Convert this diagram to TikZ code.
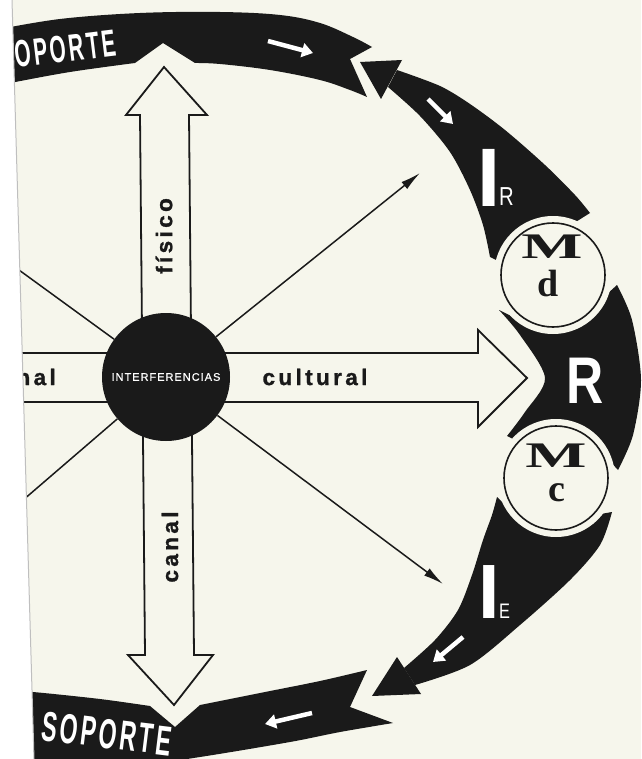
\documentclass[tikz,border=0pt]{standalone}
\usepackage{fontspec}
\setmainfont{Liberation Sans}
\usetikzlibrary{arrows.meta}
\newfontfamily\labf[LetterSpace=15,FakeBold=1.2]{Liberation Sans}
\newfontfamily\intf[LetterSpace=9,FakeBold=0.6]{Liberation Sans}
\newfontfamily\condf[FakeStretch=0.55,LetterSpace=7]{Liberation Sans}
\newfontfamily\condr[FakeStretch=0.78]{Liberation Sans}
\newfontfamily\serf{Liberation Serif}
\newfontfamily\mfontf[FakeStretch=1.8]{Liberation Serif}
\definecolor{paper}{RGB}{246,246,236}
\definecolor{ink}{RGB}{26,26,26}
\begin{document}
\begin{tikzpicture}[x=1pt,y=-1pt,
  band/.style={fill=ink},
  blockarrow/.style={fill=paper,draw=ink,line width=1.8pt,line join=miter},
  blockline/.style={draw=ink,line width=1.8pt},
  conn/.style={draw=ink,line width=1.5pt},
  wtext/.style={text=white,inner sep=0pt},
  btext/.style={text=ink,inner sep=0pt},
  warrow/.style={draw=white,line width=4.5pt,-{Triangle[length=11pt,width=14pt]}},
  mcircle/.style={circle,draw=ink,line width=1.6pt,fill=paper,minimum size=104pt,inner sep=0pt},
  labfont/.style={font={\labf\bfseries\fontsize{22.5}{26}\selectfont}}
]
\useasboundingbox (0,0) rectangle (641,759);
\clip (0,0) rectangle (641,759);
\fill[paper] (0,0) rectangle (641,759);

% top SOPORTE band
\fill[band] plot[smooth,tension=0.6] coordinates {(-5,30) (60,19) (140,13) (220,12) (280,15) (320,23) (353,37) (372,47)}
  -- (350,59)
  -- plot[smooth,tension=0.6] coordinates {(367,97) (350,90) (320,80) (270,70) (220,64) (195,63)}
  -- (163,43)
  -- plot[smooth,tension=0.6] coordinates {(135,63) (70,72) (10,83) (-5,86)} -- cycle;

% I_R band
\fill[band] (360,62) -- (402,60) -- (381,99) -- cycle;
\fill[band] plot[smooth] coordinates {(397,70) (440,86) (470,104) (505,130) (545,165) (575,195) (590,213)}
  -- (555,235) -- (500,262)
  -- plot[smooth] coordinates {(490,257) (483,225) (470,190) (450,152) (420,116) (388,87)} -- cycle;

% R band
\fill[band] (499,310) -- (540,330) -- (595,305) -- (617,285)
  -- plot[smooth] coordinates {(617,285) (632,320) (641,380) (633,435) (618,470)}
  -- (595,445) -- (556,425) -- (515,440) -- (507,436)
  -- plot[smooth] coordinates {(507,436) (525,412) (545,378) (520,335) (499,310)} -- cycle;

% I_E band
\fill[band] (372,696) -- (397,657) -- (421,694) -- cycle;
\fill[band] plot[smooth] coordinates {(404,668) (435,640) (458,610) (472,575) (483,540) (492,515) (497,497)}
  -- (520,520) -- (560,530) -- (595,515)
  -- plot[smooth] coordinates {(612,512) (600,545) (570,580) (520,625) (470,665) (415,685)} -- cycle;

% bottom SOPORTE band
\fill[band] plot[smooth] coordinates {(-5,690) (33,692) (100,699) (150,706)}
  -- (175,727)
  -- plot[smooth] coordinates {(200,705) (260,693) (320,681) (367,670)}
  -- (350,707)
  -- plot[smooth] coordinates {(393,723) (340,732) (290,742) (200,757) (120,768) (-5,775)} -- cycle;

% gaps around the M circles
\fill[paper] (553,275) circle[radius=59];
\fill[paper] (556,478) circle[radius=59];
\node[mcircle] (md) at (553,275) {};
\node[mcircle] (mc) at (556,478) {};
\node[btext,font={\mfontf\bfseries\fontsize{36}{40}\selectfont}] (mdl) at (552,247) {M};
\node[btext,font={\serf\bfseries\fontsize{38}{40}\selectfont}] (dl) at (548,284) {d};
\node[btext,font={\mfontf\bfseries\fontsize{36}{40}\selectfont}] (mcl) at (556,456) {M};
\node[btext,font={\serf\bfseries\fontsize{38}{40}\selectfont}] (cl) at (557,493) {c};

% white texts in bands
\node[wtext,anchor=base west,rotate=7,font={\condf\bfseries\fontsize{38}{42}\selectfont}] (sop1) at (0,70) {SOPORTE};
\node[wtext,anchor=base west,rotate=-7,font={\condf\bfseries\fontsize{42}{46}\selectfont}] (sop2) at (40,740) {SOPORTE};
\node[wtext,anchor=base,font={\bfseries\fontsize{83}{90}\selectfont}] (ir1) at (489,207) {I};
\node[wtext,anchor=base west,font={\condr\fontsize{26}{30}\selectfont}] (ir2) at (499,206) {R};
\node[wtext,anchor=base,font={\condr\bfseries\fontsize{66}{70}\selectfont}] (rr) at (585,403) {R};
\node[wtext,anchor=base,font={\bfseries\fontsize{77}{80}\selectfont}] (ie1) at (489,618) {I};
\node[wtext,anchor=base west,font={\condr\fontsize{21}{24}\selectfont}] (ie2) at (499,618) {E};

% white direction arrows
\draw[warrow] (268,41) -- (313,53);
\draw[warrow] (428,99) -- (453,124);
\draw[warrow] (463,637) -- (433,662);
\draw[warrow] (312,713) -- (265,724);

% block arrows
\draw[blockarrow] (164,67) -- (207,115) -- (189,115) -- (194,655) -- (213,655) -- (174,705) -- (128,655) -- (145,655) -- (140,115) -- (126,115) -- cycle;
\draw[blockarrow] (166,353) -- (478,353) -- (478,330) -- (527,378) -- (478,427) -- (478,402) -- (166,402) -- cycle;
\draw[blockline] (0,353) -- (166,353);
\draw[blockline] (0,402) -- (166,402);

% central node
\node[circle,fill=ink,minimum size=128pt,inner sep=0pt,text=white,font={\intf\fontsize{11}{12}\selectfont}] (int) at (166,377) {INTERFERENCIAS};

\coordinate (ulend) at (8,262);
\coordinate (llend) at (8,513);
\coordinate (urend) at (420,173);
\coordinate (lrend) at (443,584);
\draw[conn] (int) -- (ulend);
\draw[conn] (int) -- (llend);
\draw[conn,-{Latex[length=20pt,width=9pt]}] (int) -- (urend);
\draw[conn,-{Latex[length=20pt,width=9pt]}] (int) -- (lrend);

% labels
\node[btext,labfont,rotate=90] (fis) at (164,236) {físico};
\node[btext,labfont,rotate=90] (can) at (170,547) {canal};
\node[btext,labfont] (cul) at (315,377) {cultural};
\node[btext,labfont,anchor=east] (nal) at (56,377) {nal};

% page margin at left
\fill[white] (-2,-2) -- (12,-2) -- (34,761) -- (-2,761) -- cycle;
\draw[black!25,line width=1pt] (12,0) -- (34,759);
\end{tikzpicture}
\end{document}
